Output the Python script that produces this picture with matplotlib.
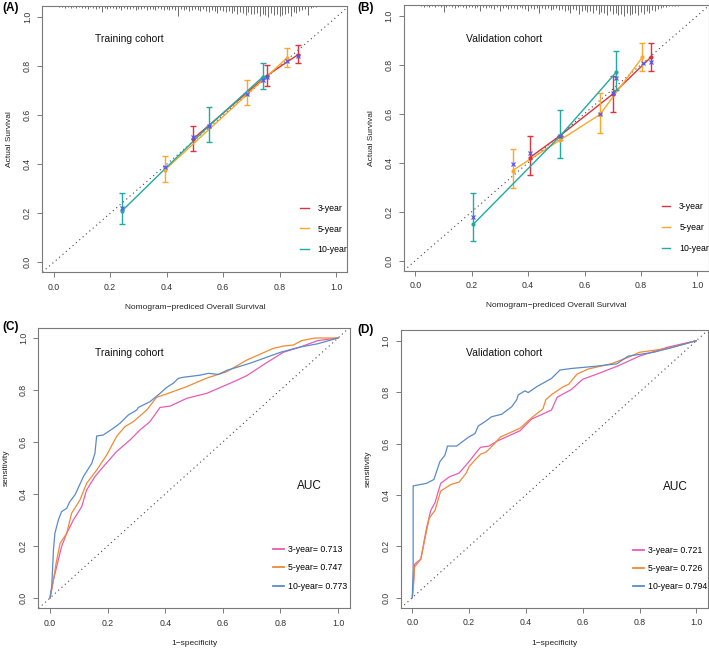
import matplotlib
matplotlib.use("Agg")
import matplotlib.pyplot as plt
import numpy as np

plt.rcParams["font.family"] = ["Liberation Sans", "DejaVu Sans"]

# ---------------- calibration data (training) ----------------
trA_x = {"3-year": [0.493, 0.755, 0.866], "5-year": [0.395, 0.685, 0.827], "10-year": [0.243, 0.551, 0.741]}
trA_y = {"3-year": [0.503, 0.762, 0.848], "5-year": [0.378, 0.685, 0.835], "10-year": [0.211, 0.558, 0.757]}
trA_lo = {"3-year": [0.455, 0.720, 0.812], "5-year": [0.328, 0.643, 0.797], "10-year": [0.157, 0.493, 0.708]}
trA_hi = {"3-year": [0.555, 0.805, 0.885], "5-year": [0.435, 0.743, 0.873], "10-year": [0.282, 0.633, 0.812]}
trA_bc_x = [0.243, 0.395, 0.493, 0.551, 0.685, 0.741, 0.755, 0.827, 0.866]
trA_bc_y = [0.222, 0.390, 0.512, 0.556, 0.688, 0.745, 0.758, 0.823, 0.840]

# ---------------- calibration data (validation) ----------------
vaB_x = {"3-year": [0.405, 0.513, 0.700, 0.835], "5-year": [0.345, 0.513, 0.655, 0.805], "10-year": [0.205, 0.513, 0.713]}
vaB_y = {"3-year": [0.420, 0.510, 0.680, 0.830], "5-year": [0.368, 0.492, 0.597, 0.830], "10-year": [0.148, 0.508, 0.770]}
vaB_lo = {"3-year": [0.350, 0.510, 0.607, 0.775], "5-year": [0.297, 0.492, 0.520, 0.775], "10-year": [0.080, 0.420, 0.695]}
vaB_hi = {"3-year": [0.510, 0.510, 0.755, 0.890], "5-year": [0.457, 0.492, 0.683, 0.890], "10-year": [0.278, 0.615, 0.855]}
vaB_bc_x = [0.205, 0.345, 0.405, 0.513, 0.655, 0.700, 0.713, 0.808, 0.835]
vaB_bc_y = [0.177, 0.393, 0.440, 0.510, 0.597, 0.685, 0.745, 0.808, 0.810]

# rug of predicted probabilities (bin centres and relative frequency)
rug_x = np.round(np.arange(0.02, 0.935, 0.01), 2)
rugA_h = [1, 1, 2, 1, 2, 1, 2, 1, 2,
          2, 3, 1, 2, 3, 2, 6, 2, 3, 2,
          2, 3, 2, 4, 2, 3, 3, 2, 4, 3,
          3, 2, 4, 3, 3, 4, 2, 3, 4, 3,
          4, 3, 4, 10, 3, 4, 3, 5, 4, 3,
          4, 5, 3, 5, 6, 4, 5, 7, 4, 5,
          6, 5, 7, 5, 8, 6, 7, 9, 6, 8,
          8, 7, 10, 8, 9, 11, 7, 9, 8, 10,
          9, 8, 7, 10, 6, 7, 5, 4, 3, 9,
          2, 1, 1]
rugB_h = [1, 2, 1, 2, 1, 2, 1, 2, 7,
          2, 1, 2, 3, 2, 1, 2, 3, 2, 2,
          3, 2, 6, 2, 3, 2, 3, 4, 2, 6,
          3, 2, 4, 3, 3, 4, 2, 3, 4, 6,
          3, 4, 3, 8, 3, 4, 3, 5, 4, 3,
          5, 4, 6, 5, 8, 4, 5, 9, 6, 5,
          7, 6, 8, 5, 9, 7, 8, 10, 6, 9,
          8, 10, 9, 11, 8, 10, 9, 8, 10, 7,
          9, 6, 8, 5, 6, 4, 3, 2, 2, 1,
          1, 1, 1]

# ---------------- ROC data ----------------
rocC = {
    "3-year": ([0, 0.012, 0.023, 0.04, 0.058, 0.081, 0.11, 0.127, 0.156, 0.185, 0.231, 0.278, 0.312, 0.347,
                0.382, 0.417, 0.475, 0.544, 0.613, 0.65, 0.683, 0.752, 0.81, 0.868, 0.93, 1],
               [0, 0.07, 0.12, 0.197, 0.249, 0.30, 0.351, 0.415, 0.467, 0.505, 0.563, 0.608, 0.646, 0.678,
                0.733, 0.738, 0.768, 0.787, 0.82, 0.838, 0.855, 0.905, 0.945, 0.965, 0.99, 1]),
    "5-year": ([0, 0.012, 0.021, 0.035, 0.058, 0.075, 0.104, 0.127, 0.162, 0.197, 0.231, 0.26, 0.289, 0.336,
                0.37, 0.405, 0.475, 0.521, 0.55, 0.613, 0.683, 0.775, 0.81, 0.845, 0.874, 0.92, 1],
               [0, 0.07, 0.133, 0.21, 0.249, 0.326, 0.377, 0.441, 0.492, 0.55, 0.621, 0.659, 0.678, 0.723,
                0.772, 0.785, 0.813, 0.835, 0.848, 0.87, 0.915, 0.96, 0.969, 0.973, 0.99, 1.0, 1]),
    "10-year": ([0, 0.006, 0.012, 0.017, 0.029, 0.04, 0.058, 0.069, 0.087, 0.116, 0.145, 0.156, 0.162, 0.185,
                 0.197, 0.22, 0.243, 0.272, 0.301, 0.307, 0.347, 0.382, 0.405, 0.428, 0.446, 0.463, 0.521,
                 0.55, 0.585, 0.613, 0.7, 0.8, 0.868, 0.93, 1],
                [0, 0.044, 0.185, 0.249, 0.30, 0.332, 0.345, 0.371, 0.397, 0.467, 0.518, 0.556, 0.623, 0.627,
                 0.636, 0.653, 0.672, 0.704, 0.723, 0.733, 0.755, 0.787, 0.81, 0.826, 0.845, 0.849, 0.857,
                 0.864, 0.86, 0.875, 0.905, 0.945, 0.965, 0.978, 1]),
}
rocD = {
    "3-year": ([0, 0.004, 0.008, 0.03, 0.05, 0.065, 0.08, 0.1, 0.13, 0.165, 0.2, 0.225, 0.24, 0.27, 0.3,
                0.35, 0.38, 0.42, 0.46, 0.49, 0.51, 0.56, 0.6, 0.65, 0.72, 0.8, 0.9, 1],
               [0, 0.05, 0.13, 0.15, 0.27, 0.34, 0.37, 0.445, 0.47, 0.485, 0.53, 0.565, 0.585, 0.59, 0.61,
                0.635, 0.65, 0.695, 0.715, 0.73, 0.78, 0.81, 0.85, 0.87, 0.9, 0.94, 0.975, 1]),
    "5-year": ([0, 0.004, 0.008, 0.03, 0.05, 0.06, 0.08, 0.1, 0.135, 0.165, 0.19, 0.2, 0.22, 0.24, 0.26,
                0.29, 0.31, 0.34, 0.38, 0.42, 0.46, 0.47, 0.49, 0.53, 0.55, 0.58, 0.62, 0.7, 0.76, 0.8,
                0.9, 1],
               [0, 0.05, 0.12, 0.15, 0.26, 0.31, 0.34, 0.415, 0.44, 0.45, 0.485, 0.51, 0.535, 0.558, 0.567,
                0.6, 0.625, 0.64, 0.66, 0.7, 0.735, 0.77, 0.79, 0.82, 0.83, 0.87, 0.89, 0.91, 0.935, 0.955,
                0.97, 1]),
    "10-year": ([0, 0.003, 0.003, 0.05, 0.076, 0.097, 0.115, 0.124, 0.156, 0.197, 0.221, 0.232, 0.256,
                 0.279, 0.315, 0.35, 0.367, 0.373, 0.397, 0.408, 0.438, 0.49, 0.52, 0.561, 0.64, 0.72,
                 0.76, 0.85, 0.92, 1],
                [0, 0.12, 0.435, 0.445, 0.46, 0.529, 0.555, 0.59, 0.59, 0.624, 0.639, 0.668, 0.685,
                 0.704, 0.714, 0.743, 0.769, 0.789, 0.805, 0.798, 0.821, 0.853, 0.886, 0.892, 0.9, 0.91,
                 0.94, 0.955, 0.975, 1]),
}
aucC = {"3-year": 0.713, "5-year": 0.747, "10-year": 0.773}
aucD = {"3-year": 0.721, "5-year": 0.726, "10-year": 0.794}

groups = ["3-year", "5-year", "10-year"]
cal_colors = {"3-year": "#D9343F", "5-year": "#FBA72A", "10-year": "#1FAAA2"}
roc_colors = {"3-year": "#E85BB4", "5-year": "#EF8A34", "10-year": "#5A8BC6"}

W, H = 709, 648
fig = plt.figure(figsize=(W / 100, H / 100), dpi=100)


def make_axes(px0, px1, py0, py1, xlim, ylim):
    # px0/px1: pixel x of data 0 and 1; py0/py1: pixel y of data 0 and 1
    sx = px1 - px0
    sy = py0 - py1
    left = px0 + xlim[0] * sx
    right = px0 + xlim[1] * sx
    bottom = py0 - ylim[0] * sy
    top = py0 - ylim[1] * sy
    ax = fig.add_axes([left / W, 1 - bottom / H, (right - left) / W, (bottom - top) / H])
    ax.set_xlim(*xlim)
    ax.set_ylim(*ylim)
    return ax, sy


def style(ax, xlabel, ylabel):
    for s in ax.spines.values():
        s.set_color("#7a7a7a")
        s.set_linewidth(0.8)
    ax.set_xticks(np.arange(0, 1.01, 0.2))
    ax.set_yticks(np.arange(0, 1.01, 0.2))
    ax.xaxis.set_major_formatter(matplotlib.ticker.FormatStrFormatter("%.1f"))
    ax.yaxis.set_major_formatter(matplotlib.ticker.FormatStrFormatter("%.1f"))
    ax.tick_params(length=3.5, width=0.7, color="#7a7a7a", labelsize=6.3, labelcolor="#333333", pad=4)
    for lab in ax.get_yticklabels():
        lab.set_rotation(90)
        lab.set_va("center")
    ax.set_xlabel(xlabel, fontsize=6, color="#222222", labelpad=9)
    ax.set_ylabel(ylabel, fontsize=6, color="#222222", labelpad=7)
    ax.axline((0, 0), (1, 1), ls=(0, (1, 3)), color="#444444", lw=0.8, zorder=1)


def calib(ax, sy, xs, ys, los, his, bcx, bcy, rug_h, title, tx, ty, lx, ly):
    style(ax, "Nomogram\u2212prediced Overall Survival", "Actual Survival")
    top = ax.get_ylim()[1]
    h = np.array(rug_h) * 1.0 / sy
    ax.vlines(rug_x, top - h, top, color="#555555", lw=0.6, zorder=2)
    handles = []
    for g in groups:
        x = np.array(xs[g])
        y = np.array(ys[g])
        err = [y - np.array(los[g]), np.array(his[g]) - y]
        ax.errorbar(x, y, yerr=err, fmt="none", ecolor=cal_colors[g], elinewidth=1.0,
                    capsize=2.5, capthick=1.0, zorder=3)
        ln, = ax.plot(x, y, "-", color=cal_colors[g], lw=1.0, label=g, zorder=3)
        ax.plot(x, y, "o", color=cal_colors[g], ms=3, mec="none", zorder=4)
        handles.append(ln)
    ax.plot(bcx, bcy, "x", color="#5A5AF0", ms=3, mew=0.9, zorder=5)
    ax.text(tx, ty, title, fontsize=7.5, color="#111111", ha="left", va="center")
    ax.legend(handles=handles, loc="center left", bbox_to_anchor=(lx, ly), frameon=False,
              fontsize=6.3, handlelength=1.0, handletextpad=1.0, labelspacing=1.35,
              borderpad=0, borderaxespad=0)


def roc(ax, curves, aucs, title, tx, ty, ax_auc, ay_auc, lx, ly):
    style(ax, "1\u2212specificity", "sensitivity")
    handles = []
    for g in groups:
        x, y = curves[g]
        ln, = ax.plot(x, y, color=roc_colors[g], lw=0.9, label=f"{g}= {aucs[g]:.3f}", zorder=3)
        handles.append(ln)
    ax.text(tx, ty, title, fontsize=7.5, color="#111111", ha="left", va="center")
    ax.text(ax_auc, ay_auc, "AUC", fontsize=8.5, color="#111111", ha="center", va="center")
    leg = ax.legend(handles=handles, loc="center left", bbox_to_anchor=(lx, ly), frameon=False,
                    fontsize=6.3, handlelength=1.2, handletextpad=0.5, labelspacing=1.05,
                    borderpad=0, borderaxespad=0)
    for l in leg.get_lines():
        l.set_linewidth(1.3)


axA, syA = make_axes(53.7, 336.0, 262.3, 17.3, (-0.04, 1.04), (-0.04, 1.045))
calib(axA, syA, trA_x, trA_y, trA_lo, trA_hi, trA_bc_x, trA_bc_y, rugA_h,
      "Training cohort", 0.146, 0.91, 0.845, 0.162)

axB, syB = make_axes(415.3, 697.3, 260.7, 15.7, (-0.04, 1.04), (-0.04, 1.045))
calib(axB, syB, vaB_x, vaB_y, vaB_lo, vaB_hi, vaB_bc_x, vaB_bc_y, rugB_h,
      "Validation cohort", 0.18, 0.904, 0.846, 0.161)

axC, _ = make_axes(50.0, 338.0, 598.0, 338.0, (-0.04, 1.04), (-0.04, 1.04))
roc(axC, rocC, aucC, "Training cohort", 0.156, 0.941, 0.90, 0.43, 0.754, 0.144)

axD, _ = make_axes(412.3, 696.3, 597.7, 340.7, (-0.04, 1.04), (-0.04, 1.04))
roc(axD, rocD, aucD, "Validation cohort", 0.19, 0.951, 0.925, 0.432, 0.757, 0.143)

for lab, px, py in [("(A)", 2, 8), ("(B)", 357, 8), ("(C)", 2, 327), ("(D)", 357, 330)]:
    fig.text(px / W, 1 - py / H, lab, fontsize=8.5, fontweight="bold", ha="left", va="center")

fig.savefig("out.png", dpi=100)
